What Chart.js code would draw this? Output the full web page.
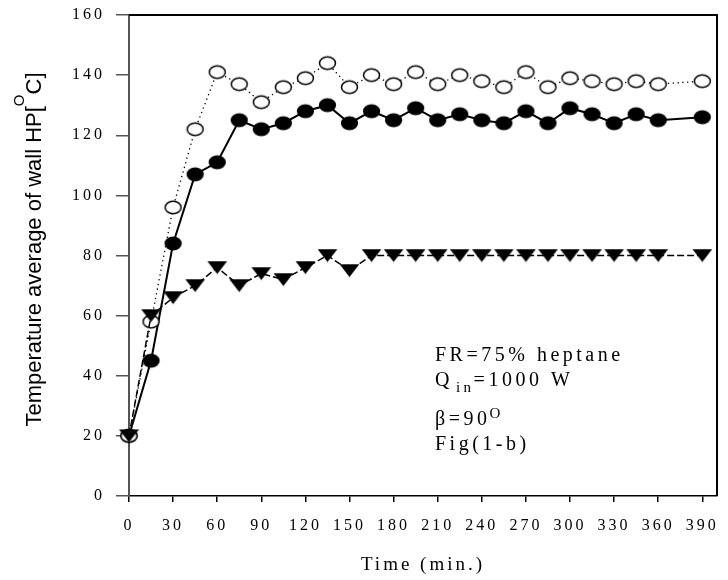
<!DOCTYPE html>
<html><head><meta charset="utf-8">
<script src="https://cdn.jsdelivr.net/npm/chart.js@4.4.1/dist/chart.umd.min.js"></script>
<style>html,body{margin:0;padding:0;background:#fff}canvas{display:block}</style>
</head><body>
<canvas id="c" width="728" height="580"></canvas>
<script>
// ---- data ----
const timeMin = [0,15,30,45,60,75,90,105,120,135,150,165,180,195,210,225,240,255,270,285,300,315,330,345,360,390];
const openCircle = [20,58,96,122,141,137,131,136,139,144,136,140,137,141,137,140,138,136,141,136,139,138,137,138,137,138];
const filledCircle = [20,45,84,107,111,125,122,124,128,130,124,128,125,129,125,127,125,124,128,124,129,127,124,127,125,126];
const triangleDown = [20,60,66,70,76,70,74,72,76,80,75,80,80,80,80,80,80,80,80,80,80,80,80,80,80,80];
const xTickValues = [0,30,60,90,120,150,180,210,240,270,300,330,360,390];
const xTitle = 'Time (min.)';
const yTitleMain = 'Temperature average of wall HP[';
const yTitleSup = 'O';
const yTitleEnd = 'C]';
const noteLine1 = 'FR=75% heptane';
const noteQ = 'Q', noteQsub = 'in', noteQrest = '=1000 W';
const noteBeta = '\u03B2=90', noteBetaSup = 'O';
const noteFig = 'Fig(1-b)';

// ---- marker images ----
function ellipseImg(fill, stroke, rx, ry){
  const c = document.createElement('canvas'); c.width = 21; c.height = 17;
  const g = c.getContext('2d');
  g.beginPath(); g.ellipse(10.5, 8.5, rx, ry, 0, 0, Math.PI*2);
  g.fillStyle = fill; g.fill();
  if (stroke){ g.lineWidth = 1.5; g.strokeStyle = stroke; g.stroke(); }
  return c;
}
function triImg(){
  const c = document.createElement('canvas'); c.width = 21; c.height = 14;
  const g = c.getContext('2d');
  g.beginPath(); g.moveTo(0.5,0.5); g.lineTo(20.5,0.5); g.lineTo(10.5,13.5); g.closePath();
  g.fillStyle = '#000'; g.fill();
  return c;
}
const openImg = ellipseImg('#fff', '#000', 8.0, 6.3);
const filledImg = ellipseImg('#000', null, 8.6, 6.9);
const triImage = triImg();

const toXY = arr => timeMin.map((t,i)=>({x:t, y:arr[i]}));

const decor = {
  id:'decor',
  beforeDraw(chart){ chart.ctx.letterSpacing = '3px'; },
  afterDraw(chart){
    const ctx = chart.ctx, a = chart.chartArea;
    ctx.save();
    ctx.strokeStyle = '#000'; ctx.lineWidth = 2;
    ctx.beginPath(); ctx.moveTo(a.left, a.top); ctx.lineTo(a.right, a.top); ctx.lineTo(a.right, a.bottom); ctx.stroke();

    // y title (sans, rotated) with superscript
    ctx.letterSpacing = '0px';
    ctx.fillStyle = '#000'; ctx.textBaseline = 'alphabetic'; ctx.textAlign = 'left';
    const fMain = '22px "Liberation Sans", Arial, sans-serif';
    const fSup = '15px "Liberation Sans", Arial, sans-serif';
    ctx.font = fMain; const w1 = ctx.measureText(yTitleMain).width; const w3 = ctx.measureText(yTitleEnd).width;
    ctx.font = fSup; const w2 = ctx.measureText(yTitleSup).width;
    const W = w1 + w2 + w3;
    ctx.save();
    ctx.translate(41, (a.top + a.bottom)/2 - 6);
    ctx.rotate(-Math.PI/2);
    let u = -W/2;
    ctx.font = fMain; ctx.fillText(yTitleMain, u, 0); u += w1;
    ctx.font = fSup; ctx.fillText(yTitleSup, u, -17); u += w2;
    ctx.font = fMain; ctx.fillText(yTitleEnd, u, 0);
    ctx.restore();

    // annotation (serif, letter-spaced)
    ctx.letterSpacing = '3.5px';
    const fN = '20px "Liberation Serif", "Times New Roman", serif';
    const fS = '15px "Liberation Serif", "Times New Roman", serif';
    const x0 = 435;
    ctx.font = fN; ctx.fillText(noteLine1, x0, 361);
    let x = x0;
    ctx.font = fN; ctx.fillText(noteQ, x, 386); x += ctx.measureText(noteQ).width + 3;
    ctx.font = fS; ctx.fillText(noteQsub, x, 392); x += ctx.measureText(noteQsub).width - 1;
    ctx.font = fN; ctx.fillText(noteQrest, x, 386);
    x = x0;
    ctx.font = fN; ctx.fillText(noteBeta, x, 425); x += ctx.measureText(noteBeta).width - 1;
    ctx.font = fS; ctx.fillText(noteBetaSup, x, 418);
    ctx.font = fN; ctx.fillText(noteFig, x0, 450);
    ctx.restore();
  }
};

new Chart(document.getElementById('c'), {
  type: 'line',
  data: {
    datasets: [
      { label:'triangle', data: toXY(triangleDown), order:0, borderColor:'#000', borderWidth:1.5, borderDash:[7,3],
        pointStyle: triImage, pointRadius: 9, backgroundColor:'#000', tension:0, clip:false },
      { label:'open', data: toXY(openCircle), order:1, borderColor:'#000', borderWidth:1.3, borderDash:[1.3,3.5],
        pointStyle: openImg, pointRadius: 9, backgroundColor:'#fff', tension:0, clip:false },
      { label:'filled', data: toXY(filledCircle), order:2, borderColor:'#000', borderWidth:2,
        pointStyle: filledImg, pointRadius: 9, backgroundColor:'#000', tension:0, clip:false }
    ]
  },
  options: {
    responsive:false, devicePixelRatio:1, animation:false,
    layout:{ padding:{ left:0, right:5, top:15, bottom:0 } },
    plugins:{ legend:{display:false}, tooltip:{enabled:false} },
    scales:{
      x:{ type:'linear', min:0, max:400,
        afterBuildTicks(s){ s.ticks = xTickValues.map(v=>({value:v})); },
        afterFit(s){ s.height = 84; s.paddingLeft = 0; s.paddingRight = 0; },
        grid:{ drawOnChartArea:false, drawTicks:true, tickLength:6, color:'#000', lineWidth:1.5 },
        border:{ display:true, color:'#000', width:1.5 },
        ticks:{ color:'#000', padding:14, maxRotation:0, autoSkip:false,
          font:{ family:'"Liberation Serif", "Times New Roman", serif', size:16 } },
        title:{ display:true, text:xTitle, color:'#000', padding:{top:0,bottom:4},
          font:{ family:'"Liberation Serif", "Times New Roman", serif', size:19 } }
      },
      y:{ type:'linear', min:0, max:160,
        afterFit(s){ s.width = 129; s.paddingTop = 0; s.paddingBottom = 0; },
        grid:{ drawOnChartArea:false, drawTicks:true, tickLength:13, color:'#555', lineWidth:1.5 },
        border:{ display:true, color:'#555', width:2 },
        ticks:{ color:'#000', stepSize:20, padding:11,
          font:{ family:'"Liberation Serif", "Times New Roman", serif', size:16 } }
      }
    }
  },
  plugins:[decor]
});
</script>
</body></html>
